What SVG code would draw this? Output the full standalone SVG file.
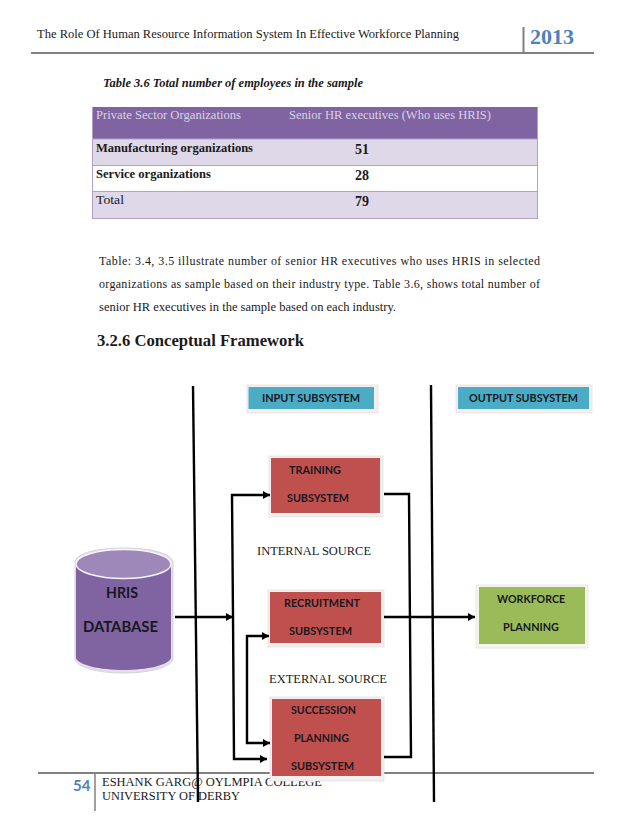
<svg xmlns="http://www.w3.org/2000/svg" width="638" height="826" viewBox="0 0 638 826">
<style>
text{font-family:"Liberation Serif","Times New Roman",serif;fill:#1a1a1a}
.b{font-weight:bold}
.hd{fill:#d9d2e4;font-size:12px}
.c{font-family:Lato,"Noto Sans",sans-serif;font-weight:bold;font-size:12px;fill:#17171f}
.p{font-size:12px}
.s{font-size:13px}
.w{fill:none;stroke:#000;stroke-width:2.4}
.frame{fill:#f5f0f0;stroke:#dcd6d6;stroke-width:.6}
.red{fill:#c0504d}
.teal{fill:#4bacc6}
.rule{stroke:#808080;fill:none}
</style>
<defs>
<marker id="a" markerUnits="userSpaceOnUse" markerWidth="9" markerHeight="9" refX="7" refY="4" orient="auto"><path d="M0 0L7 4L0 8Z" fill="#000"/></marker>
</defs>
<rect width="638" height="826" fill="#fff"/>
<g id="header">
<path class="rule" stroke-width="2" d="M31 53H594"/>
<path class="rule" stroke-width="2" d="M523.500 27V53"/>
<text x="37" y="38" font-size="12" textLength="422" lengthAdjust="spacingAndGlyphs">The Role Of Human Resource Information System In Effective Workforce Planning</text>
<text x="530" y="44" font-size="20" class="b" style="fill:#4f81bd" textLength="44" lengthAdjust="spacingAndGlyphs">2013</text>
</g>
<text x="103" y="87" font-size="12" class="b" font-style="italic" textLength="260" lengthAdjust="spacingAndGlyphs">Table 3.6 Total number of employees in the sample</text>
<g id="table">
<rect x="92" y="107" width="446" height="32" fill="#8064a2"/>
<rect x="92" y="139" width="446" height="26" fill="#dfd8e8"/>
<rect x="92" y="191" width="446" height="28" fill="#dfd8e8"/>
<path d="M92 139H538M92 165.500H538M92 191.500H538M92 218.500H538M92.500 107V219M537.500 107V219" stroke="#b2a1c7" fill="none"/>
<text x="96" y="119" class="hd" textLength="145" lengthAdjust="spacingAndGlyphs">Private Sector Organizations</text>
<text x="289" y="119" class="hd" textLength="202" lengthAdjust="spacingAndGlyphs">Senior HR executives (Who uses HRIS)</text>
<text x="96" y="152" font-size="12" class="b" textLength="157" lengthAdjust="spacingAndGlyphs">Manufacturing organizations</text>
<text x="96" y="178" font-size="12" class="b" textLength="115" lengthAdjust="spacingAndGlyphs">Service organizations</text>
<text x="96" y="204" font-size="12" textLength="28" lengthAdjust="spacingAndGlyphs">Total</text>
<text x="355" y="154" font-size="14" class="b">51</text>
<text x="355" y="180" font-size="14" class="b">28</text>
<text x="355" y="206" font-size="14" class="b">79</text>
</g>
<g id="paragraph">
<text x="99" y="265" class="p" textLength="441">Table: 3.4, 3.5 illustrate number of senior HR executives who uses HRIS in selected</text>
<text x="99" y="288" class="p" textLength="441">organizations as sample based on their industry type. Table 3.6, shows total number of</text>
<text x="99" y="311" class="p" textLength="297" lengthAdjust="spacingAndGlyphs">senior HR executives in the sample based on each industry.</text>
</g>
<text x="97" y="346" font-size="16" class="b" textLength="207" lengthAdjust="spacingAndGlyphs">3.2.6 Conceptual Framework</text>
<g id="footer">
<path class="rule" stroke-width="2" d="M38 773H594"/>
<path class="rule" stroke-width="1.500" d="M95 773V811"/>
<text x="73" y="791" font-size="15" class="b" style="font-family:Lato,sans-serif;fill:#4f81bd">54</text>
<text x="102" y="786" font-size="12.500" textLength="220" lengthAdjust="spacingAndGlyphs">ESHANK GARG@ OYLMPIA COLLEGE</text>
<text x="102" y="800" font-size="12.500" textLength="138" lengthAdjust="spacingAndGlyphs">UNIVERSITY OF DERBY</text>
</g>
<g id="hris-database">
<path d="M75 563C75 553 98 548 123.500 548S173 553 173 563V658C173 667 150 673 123.500 673S75 667 75 658Z" fill="#e4e0e8" stroke="#d6d2da"/>
<path d="M76 564V658C78 665 100 670 123.500 670S169 665 171 658V564Z" fill="#8064a2"/>
<ellipse cx="123.500" cy="564" rx="47.500" ry="14.500" fill="#9e88b9" stroke="#f7f4fa" stroke-width="1.500"/>
<text x="106" y="598" class="c" style="font-size:15px" textLength="32" lengthAdjust="spacingAndGlyphs">HRIS</text>
<text x="83" y="632" class="c" style="font-size:15px" textLength="75" lengthAdjust="spacingAndGlyphs">DATABASE</text>
</g>
<g id="input-subsystem">
<rect x="247" y="385" width="131" height="28" class="frame"/><rect x="248.500" y="387" width="125.500" height="22" class="teal"/>
<text x="262" y="402" class="c" textLength="98" lengthAdjust="spacingAndGlyphs">INPUT SUBSYSTEM</text>
</g>
<g id="output-subsystem">
<rect x="456" y="385" width="136" height="28" class="frame"/><rect x="458" y="387" width="131" height="22" class="teal"/>
<text x="469" y="402" class="c" textLength="109" lengthAdjust="spacingAndGlyphs">OUTPUT SUBSYSTEM</text>
</g>
<g id="training-subsystem">
<rect x="269" y="456" width="114" height="61" class="frame"/><rect x="271" y="458" width="109" height="55" class="red"/>
<text x="289" y="474" class="c" textLength="52" lengthAdjust="spacingAndGlyphs">TRAINING</text>
<text x="287" y="502" class="c" textLength="62" lengthAdjust="spacingAndGlyphs">SUBSYSTEM</text>
</g>
<g id="recruitment-subsystem">
<rect x="268" y="590" width="116" height="57" class="frame"/><rect x="270" y="592" width="111" height="51" class="red"/>
<text x="284" y="607" class="c" textLength="76" lengthAdjust="spacingAndGlyphs">RECRUITMENT</text>
<text x="289" y="635" class="c" textLength="63" lengthAdjust="spacingAndGlyphs">SUBSYSTEM</text>
</g>
<g id="succession-planning-subsystem">
<rect x="270" y="697" width="114" height="84" class="frame"/><rect x="272" y="699" width="109" height="77" class="red"/>
<text x="291" y="714" class="c" textLength="65" lengthAdjust="spacingAndGlyphs">SUCCESSION</text>
<text x="294" y="742" class="c" textLength="55" lengthAdjust="spacingAndGlyphs">PLANNING</text>
<text x="291" y="770" class="c" textLength="63" lengthAdjust="spacingAndGlyphs">SUBSYSTEM</text>
</g>
<g id="workforce-planning">
<rect x="476" y="585" width="112" height="63" class="frame" style="fill:#f4f6ee"/><rect x="479" y="587" width="106" height="57" fill="#9bbb59"/>
<text x="497" y="603" class="c" textLength="68" lengthAdjust="spacingAndGlyphs">WORKFORCE</text>
<text x="503" y="631" class="c" textLength="56" lengthAdjust="spacingAndGlyphs">PLANNING</text>
</g>
<text x="257" y="555" class="s" textLength="114" lengthAdjust="spacingAndGlyphs">INTERNAL SOURCE</text>
<text x="269" y="683" class="s" textLength="118" lengthAdjust="spacingAndGlyphs">EXTERNAL SOURCE</text>
<g id="connectors">
<path class="w" d="M193 386L198 802"/>
<path class="w" d="M431 385L434 802"/>
<path class="w" d="M175 617H233" marker-end="url(#a)"/>
<path class="w" d="M233 617L232 495H270" marker-end="url(#a)"/>
<path class="w" d="M233 617L234 759H267" marker-end="url(#a)"/>
<path class="w" d="M247 690V636H269" marker-end="url(#a)"/>
<path class="w" d="M247 690V743H270" marker-end="url(#a)"/>
<path class="w" d="M384 494H409L411 757H384"/>
<path class="w" d="M384 617H475" marker-end="url(#a)"/>
</g>
</svg>
